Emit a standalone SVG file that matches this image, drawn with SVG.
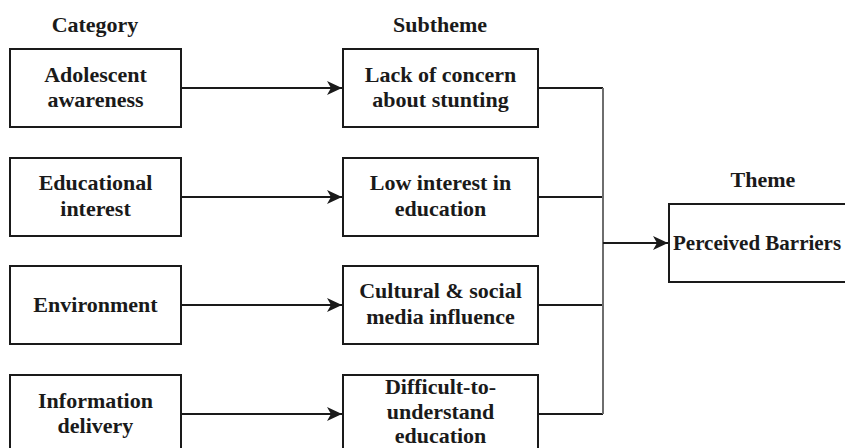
<svg xmlns="http://www.w3.org/2000/svg" width="845" height="448" viewBox="0 0 845 448">
<style>
.box{fill:#fff;stroke:#1a1a1a;stroke-width:2}
.t{font-family:'Liberation Serif','Times New Roman',serif;font-weight:bold;font-size:22px;fill:#1a1a1a;text-anchor:middle}
.c{fill:none;stroke:#1a1a1a;stroke-width:2}
.v{fill:none;stroke:#6e6e6e;stroke-width:2}
</style>
<defs>
<marker id="ah" markerUnits="userSpaceOnUse" markerWidth="16" markerHeight="14" refX="15" refY="7" orient="auto">
<path d="M0,0 L15,7 L0,14 L4,7 z" fill="#1a1a1a"/>
</marker>
</defs>
<rect width="845" height="448" fill="#fff"/>
<g id="headers">
<text class="t" x="95" y="32">Category</text>
<text class="t" x="440" y="32">Subtheme</text>
<text class="t" x="763" y="187">Theme</text>
</g>
<g id="connectors">
<path class="c" d="M181,88 H342" marker-end="url(#ah)"/>
<path class="c" d="M181,197 H342" marker-end="url(#ah)"/>
<path class="c" d="M181,305 H342" marker-end="url(#ah)"/>
<path class="c" d="M181,414 H342" marker-end="url(#ah)"/>
<path class="c" d="M538,88 H603"/>
<path class="c" d="M538,197 H603"/>
<path class="c" d="M538,305 H603"/>
<path class="c" d="M538,414 H603"/>
<path class="v" d="M603,88 V414"/>
<path class="c" d="M603,243 H668" marker-end="url(#ah)"/>
</g>
<g id="n-adolescent">
<rect class="box" x="10" y="49" width="171" height="78"/>
<text class="t" x="95.5" y="82">Adolescent</text>
<text class="t" x="95.5" y="107">awareness</text>
</g>
<g id="n-educational">
<rect class="box" x="10" y="158" width="171" height="78"/>
<text class="t" x="95.5" y="190">Educational</text>
<text class="t" x="95.5" y="216">interest</text>
</g>
<g id="n-environment">
<rect class="box" x="10" y="266" width="171" height="78"/>
<text class="t" x="95.5" y="312">Environment</text>
</g>
<g id="n-information">
<rect class="box" x="10" y="375" width="171" height="78"/>
<text class="t" x="95.5" y="408">Information</text>
<text class="t" x="95.5" y="433">delivery</text>
</g>
<g id="n-lack">
<rect class="box" x="343" y="49" width="195" height="78"/>
<text class="t" x="440.5" y="82">Lack of concern</text>
<text class="t" x="440.5" y="107">about stunting</text>
</g>
<g id="n-low">
<rect class="box" x="343" y="158" width="195" height="78"/>
<text class="t" x="440.5" y="190">Low interest in</text>
<text class="t" x="440.5" y="216">education</text>
</g>
<g id="n-cultural">
<rect class="box" x="343" y="266" width="195" height="78"/>
<text class="t" x="440.5" y="298">Cultural &amp; social</text>
<text class="t" x="440.5" y="324">media influence</text>
</g>
<g id="n-difficult">
<rect class="box" x="343" y="375" width="195" height="78"/>
<text class="t" x="440.5" y="394">Difficult-to-</text>
<text class="t" x="440.5" y="419">understand</text>
<text class="t" x="440.5" y="443">education</text>
</g>
<g id="n-perceived">
<rect class="box" x="669" y="204" width="190" height="78"/>
<text class="t" x="673" y="250" style="text-anchor:start;font-size:21px">Perceived Barriers</text>
</g>
</svg>
